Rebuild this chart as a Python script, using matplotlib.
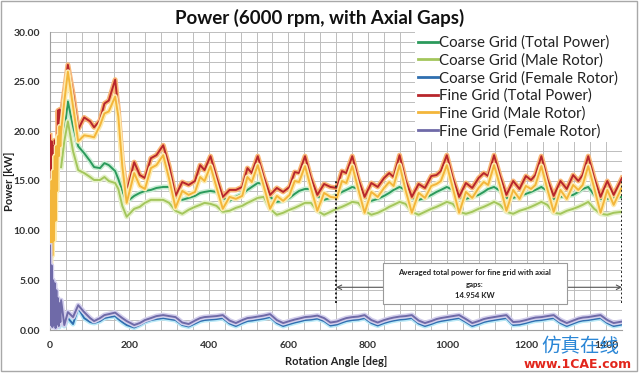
import matplotlib
matplotlib.use("Agg")
import matplotlib.pyplot as plt
import matplotlib.patheffects as pe
from matplotlib.ticker import MultipleLocator, FormatStrFormatter
from matplotlib.patches import Rectangle
from matplotlib.lines import Line2D

plt.rcParams['font.family'] = ['Lato', 'DejaVu Sans']

# ---------------- data ----------------
# start-up transient of the fine-grid run
angle_start = [0, 2, 4, 6, 8, 10, 12, 14, 16, 18, 20, 22, 24, 26]
fine_total_start = [19.6, 11.5, 19.0, 12.0, 18.5, 13.0, 19.1, 14.5, 18.0, 16.0, 22.1, 20.0, 22.2, 20.5]
fine_male_start = [14.0, 6.5, 15.0, 7.5, 16.0, 9.0, 17.5, 11.0, 18.5, 14.0, 19.5, 17.5, 20.5, 18.5]
fine_female_start = [8.5, 0.5, 6.5, 0.3, 5.0, 0.5, 4.7, 0.2, 4.0, 0.6, 3.2, 0.4, 2.7, 0.8]

angle_cf_start = [20, 23, 26]
coarse_female_start = [1.8, 0.3, 1.5]

angle_main = [
    28, 36, 45, 58, 71, 86, 101, 111, 126, 137, 148, 164, 172, 182, 193, 212, 226, 239, 254, 268,
    285, 300, 316, 333, 349, 365, 378, 389,
    404, 419, 435, 452, 468, 484, 497, 508,
    523, 538, 554, 571, 587, 603, 616, 627,
    642, 657, 673, 690, 706, 722, 735, 746,
    761, 776, 792, 809, 825, 841, 854, 865,
    880, 895, 911, 928, 944, 960, 973, 984,
    999, 1014, 1030, 1047, 1063, 1079, 1092, 1103,
    1118, 1133, 1149, 1166, 1182, 1198, 1211, 1222,
    1237, 1252, 1268, 1285, 1301, 1317, 1330, 1341,
    1355, 1370, 1386, 1403, 1419, 1440]

fine_total = [
    21.6, 24.0, 26.7, 23.8, 20.2, 21.4, 21.0, 20.4, 21.1, 22.8, 23.1, 25.2, 22.2, 17.1, 13.9, 16.9, 15.6, 15.3, 17.3, 17.6,
    18.6, 16.5, 13.5, 14.9, 14.6, 15.0, 16.6, 16.1,
    17.5, 15.4, 13.4, 14.1, 14.1, 14.4, 16.3, 15.8,
    17.5, 15.4, 13.6, 14.3, 13.9, 14.4, 15.9, 15.8,
    17.5, 15.3, 13.6, 14.7, 14.4, 14.3, 16.0, 15.8,
    17.5, 15.2, 13.4, 14.8, 14.4, 15.3, 15.8, 15.4,
    17.6, 15.1, 13.4, 14.7, 14.3, 15.5, 15.6, 16.0,
    17.6, 15.3, 13.4, 14.8, 14.3, 15.3, 15.8, 15.5,
    17.6, 15.5, 13.6, 15.0, 14.2, 15.5, 15.1, 15.6,
    17.5, 15.2, 13.5, 15.0, 14.2, 15.6, 15.0, 15.6,
    17.5, 15.3, 13.4, 15.0, 13.6, 15.3]

fine_male = [
    20.0, 23.0, 26.0, 22.5, 19.0, 19.6, 19.5, 19.4, 20.6, 21.8, 22.0, 23.5, 21.5, 16.5, 12.8, 15.8, 14.5, 14.2, 16.3, 16.6,
    17.6, 15.2, 12.3, 14.0, 13.6, 13.9, 15.4, 15.0,
    16.5, 14.4, 12.2, 13.4, 13.2, 13.5, 15.4, 14.9,
    16.6, 14.5, 12.2, 13.5, 13.0, 13.6, 15.0, 14.9,
    16.5, 14.3, 12.0, 13.8, 13.4, 13.3, 15.0, 14.8,
    16.5, 14.2, 11.8, 13.9, 13.4, 14.3, 14.9, 14.5,
    16.6, 14.1, 11.8, 13.8, 13.3, 14.5, 14.7, 15.0,
    16.6, 14.3, 11.8, 13.9, 13.3, 14.3, 14.9, 14.6,
    16.6, 14.5, 12.0, 14.1, 13.2, 14.5, 14.2, 14.6,
    16.5, 14.2, 11.9, 14.1, 13.2, 14.6, 14.1, 14.6,
    16.5, 14.3, 11.8, 14.1, 12.6, 14.4]

coarse_total = [
    16.8, 20.0, 23.0, 20.5, 18.5, 17.8, 17.0, 16.4, 16.3, 16.8, 16.6, 16.0, 15.2, 14.0, 12.9, 13.5, 13.8, 14.0, 14.1, 14.3,
    14.4, 14.4, 13.4, 13.1, 13.3, 13.5, 13.8, 13.9,
    14.0, 13.9, 13.3, 13.0, 13.4, 13.7, 14.1, 14.4,
    14.8, 14.7, 13.4, 12.9, 13.0, 13.3, 13.7, 14.0,
    14.2, 14.2, 13.5, 13.1, 13.3, 13.6, 13.9, 14.1,
    14.4, 14.2, 13.4, 13.0, 13.2, 13.5, 13.8, 14.1,
    14.4, 14.1, 13.3, 13.1, 13.3, 13.6, 13.9, 14.1,
    14.4, 14.1, 13.3, 13.2, 13.4, 13.6, 13.9, 14.2,
    14.4, 14.0, 13.3, 13.3, 13.5, 13.7, 13.9, 14.1,
    14.4, 14.0, 13.2, 13.4, 13.5, 13.6, 13.9, 14.2,
    14.4, 13.6, 13.2, 13.2, 13.3, 13.4]

coarse_male = [
    16.4, 19.0, 21.0, 18.0, 16.1, 15.8, 15.4, 15.1, 15.1, 15.4, 15.0, 14.8, 14.2, 12.5, 11.4, 12.2, 12.4, 12.8, 13.1, 13.1,
    13.1, 12.8, 12.0, 11.7, 12.1, 12.4, 12.6, 12.8,
    12.7, 12.5, 11.9, 12.0, 12.3, 12.5, 12.8, 13.0,
    13.3, 13.4, 12.2, 11.6, 11.8, 12.1, 12.3, 12.5,
    12.8, 12.8, 12.0, 11.6, 11.9, 12.2, 12.4, 12.6,
    12.9, 12.8, 12.0, 11.6, 11.8, 12.1, 12.4, 12.6,
    12.9, 12.7, 11.9, 11.6, 11.9, 12.2, 12.4, 12.6,
    12.9, 12.7, 11.9, 11.7, 11.9, 12.2, 12.4, 12.6,
    12.9, 12.6, 11.9, 11.7, 12.0, 12.2, 12.4, 12.6,
    12.9, 12.6, 11.8, 11.7, 12.0, 12.2, 12.4, 12.6,
    12.9, 12.2, 11.7, 11.6, 11.8, 11.9]

fine_female = [
    3.0, 0.5, 1.8, 1.3, 2.5, 1.8, 1.2, 0.9, 1.2, 1.5, 1.6, 1.75, 1.5, 1.2, 0.9, 0.5, 0.7, 1.0, 1.2, 1.4,
    1.5, 1.4, 1.3, 0.75, 0.6, 0.95, 1.2, 1.3,
    1.35, 1.4, 1.5, 0.95, 0.7, 1.0, 1.2, 1.25,
    1.35, 1.45, 1.6, 1.0, 0.7, 0.9, 1.05, 1.15,
    1.3, 1.35, 1.45, 1.2, 0.75, 0.85, 1.05, 1.2,
    1.3, 1.35, 1.5, 1.0, 0.75, 1.0, 1.15, 1.25,
    1.35, 1.4, 1.5, 0.95, 0.7, 0.9, 1.1, 1.2,
    1.3, 1.4, 1.5, 1.1, 0.7, 0.9, 1.1, 1.2,
    1.3, 1.4, 1.5, 0.8, 0.85, 1.0, 1.15, 1.25,
    1.3, 1.4, 1.5, 1.0, 0.7, 0.95, 1.15, 1.25,
    1.3, 1.4, 1.5, 1.0, 0.7, 0.85]

coarse_female = [
    1.6, 0.4, 1.2, 0.6, 2.2, 1.2, 0.8, 0.7, 0.9, 1.2, 1.3, 1.4, 1.1, 0.8, 0.5, 0.25, 0.5, 0.8, 1.0, 1.1,
    1.2, 1.1, 1.0, 0.5, 0.35, 0.65, 0.9, 1.0,
    1.05, 1.1, 1.2, 0.65, 0.4, 0.7, 0.9, 0.95,
    1.05, 1.15, 1.3, 0.7, 0.4, 0.6, 0.75, 0.85,
    1.0, 1.05, 1.15, 0.9, 0.45, 0.55, 0.75, 0.9,
    1.0, 1.05, 1.2, 0.7, 0.45, 0.7, 0.85, 0.95,
    1.05, 1.1, 1.2, 0.65, 0.4, 0.6, 0.8, 0.9,
    1.0, 1.1, 1.2, 0.8, 0.4, 0.6, 0.8, 0.9,
    1.0, 1.1, 1.2, 0.5, 0.55, 0.7, 0.85, 0.95,
    1.0, 1.1, 1.2, 0.7, 0.4, 0.65, 0.85, 0.95,
    1.0, 1.1, 1.2, 0.7, 0.4, 0.55]

series_labels = ["Coarse Grid (Total Power)", "Coarse Grid (Male Rotor)", "Coarse Grid (Female Rotor)",
                 "Fine Grid (Total Power)", "Fine Grid (Male Rotor)", "Fine Grid (Female Rotor)"]

avg_window = [720, 1440]
avg_text = ["Averaged total power for fine grid with axial", "gaps:", "14.954 KW"]

x_ticks = [0, 200, 400, 600, 800, 1000, 1200, 1400]
y_ticks = [0, 5, 10, 15, 20, 25, 30]

# ---------------- figure ----------------
fig = plt.figure(figsize=(6.4, 3.73), dpi=100)
ax = fig.add_axes([50 / 640, 1 - 330 / 373, 572 / 640, 298 / 373])

colors = ["#2b9a5c", "#a3c65c", "#2f6fb0", "#b8262b", "#f3b63a", "#6f6aa8"]
halos = ["#c8ecd2", "#e4f0c8", "#b9e9f7", "#f8b777", "#fdebb0", "#d3cfec"]

series = [
    (angle_main, coarse_total),
    (angle_main, coarse_male),
    (angle_cf_start + angle_main, coarse_female_start + coarse_female),
    (angle_start + angle_main, fine_total_start + fine_total),
    (angle_start + angle_main, fine_male_start + fine_male),
    (angle_start + angle_main, fine_female_start + fine_female),
]

for i, ((xs, ys), c, h, lab) in enumerate(zip(series, colors, halos, series_labels)):
    ax.plot(xs, ys, color=c, lw=1.4, zorder=3 + i, solid_joinstyle='round',
            path_effects=[pe.Stroke(linewidth=3.6, foreground=h), pe.Normal()])

ax.set_xlim(0, 1440)
ax.set_ylim(0, 30)
ax.set_xticks(x_ticks)
ax.set_yticks(y_ticks)
ax.xaxis.set_minor_locator(MultipleLocator(40))
ax.yaxis.set_minor_locator(MultipleLocator(1))
ax.yaxis.set_major_formatter(FormatStrFormatter('%.2f'))
ax.grid(True, which='both', color='#bdbdbd', lw=0.7)
ax.set_axisbelow(True)
ax.tick_params(which='both', length=0)
ax.tick_params(axis='y', pad=7, labelsize=7.5)
ax.tick_params(axis='x', pad=8, labelsize=7.5)
for lbl in ax.get_xticklabels() + ax.get_yticklabels():
    lbl.set_fontweight('bold')
    lbl.set_color('#333333')
for s in ['top', 'right']:
    ax.spines[s].set_visible(False)
for s in ['left', 'bottom']:
    ax.spines[s].set_color('#a0a0a0')
    ax.spines[s].set_linewidth(0.8)

# averaging window markers
for xv in avg_window:
    ax.plot([xv, xv], [2.75, 15.1], color='#222222', lw=1.4, ls=(0, (1, 1.2)), zorder=10)
ax.annotate('', xy=(avg_window[0], 4.3), xytext=(avg_window[1], 4.3),
            arrowprops=dict(arrowstyle='<->', color='#555555', lw=0.8, mutation_scale=8,
                            shrinkA=0, shrinkB=0), zorder=10)
ax.add_patch(Rectangle((838, 2.62), 463, 4.1, facecolor='white', edgecolor='#9a9a9a',
                       lw=0.8, zorder=11))
for txt, yv in zip(avg_text, [5.77, 4.6, 3.52]):
    ax.text(1069, yv, txt, ha='center', va='center', fontsize=5.6, fontweight='bold',
            color='#222222', zorder=12)

handles = [Line2D([0], [0], color=c, lw=2) for c in colors]
leg = ax.legend(handles, series_labels, loc='upper right', bbox_to_anchor=(1.0, 1.0),
                fontsize=10.8, frameon=True, fancybox=False, framealpha=1, edgecolor='none',
                handlelength=1.3, handletextpad=0.1, labelspacing=0.22, borderpad=0.25,
                borderaxespad=0.0)
leg.set_zorder(20)
for t in leg.get_texts():
    t.set_color('#222222')

fig.text(320 / 640, 1 - 18 / 373, 'Power (6000 rpm, with Axial Gaps)', ha='center', va='center',
         fontsize=13.5, fontweight='bold', color='#111111')
fig.text(336 / 640, 1 - 361.5 / 373, 'Rotation Angle [deg]', ha='center', va='center',
         fontsize=8, fontweight='bold', color='#222222')
fig.text(10 / 640, 0.515, 'Power [kW]', ha='center', va='center', rotation=90,
         fontsize=8, fontweight='bold', color='#222222')

# site watermark present in the picture
fig.text(580 / 640, 1 - 347 / 373, '仿真在线', ha='center', va='center', fontsize=14,
         color='#2a86d6', family=['Noto Sans CJK SC', 'DejaVu Sans'], zorder=30)
fig.text(578 / 640, 1 - 364.5 / 373, 'www.1CAE.com', ha='center', va='center', fontsize=9,
         fontweight='bold', color='#e2261c', family=['DejaVu Sans'], zorder=30)

fig.patches.append(Rectangle((1 / 640, 2 / 373), 636 / 640, 370 / 373, transform=fig.transFigure,
                             fill=False, edgecolor='#a8a8a8', lw=1))

fig.savefig('out.png', dpi=100)
